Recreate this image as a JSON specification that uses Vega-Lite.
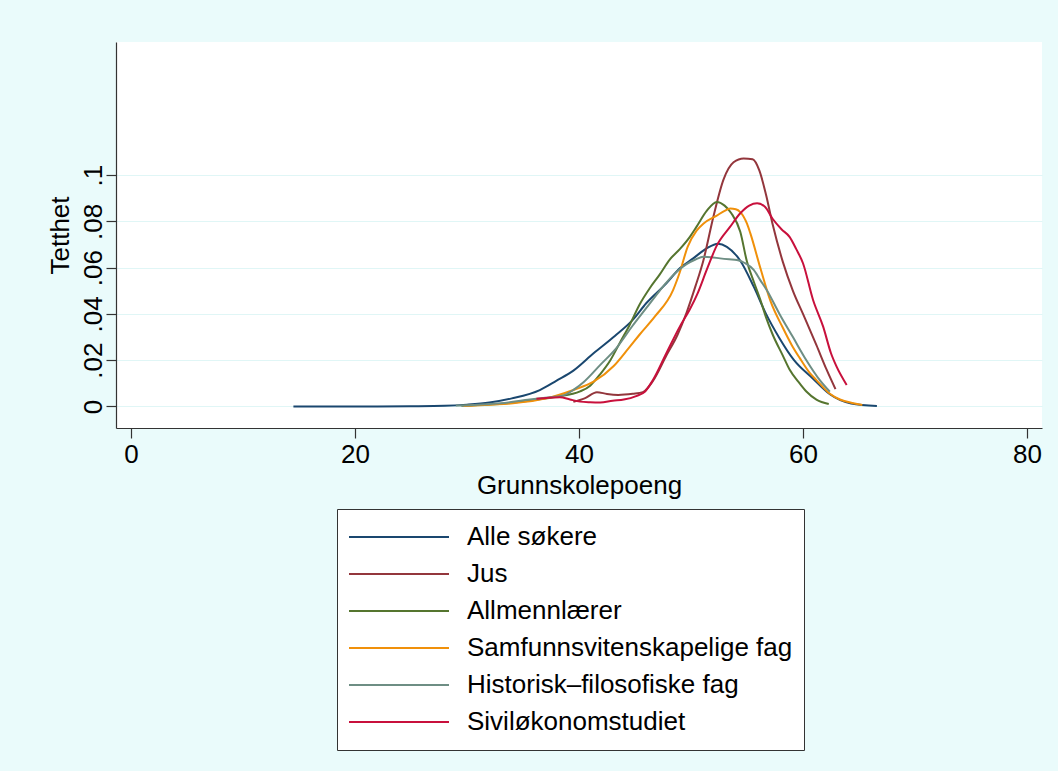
{
 "$schema": "https://vega.github.io/schema/vega-lite/v6.json",
 "width": 926,
 "height": 386,
 "autosize": {"type": "none"},
 "padding": {"left": 116, "top": 42, "right": 16, "bottom": 343},
 "background": "#eafbfb",
 "config": {"font": "Liberation Sans", "view": {"fill": "white", "stroke": null}},
 "data": {"values": [
  {"g":"Alle søkere","x":14.5,"y":0},{"g":"Alle søkere","x":18,"y":0},{"g":"Alle søkere","x":22,"y":0},{"g":"Alle søkere","x":25,"y":0.0001},{"g":"Alle søkere","x":28,"y":0.0003},{"g":"Alle søkere","x":30,"y":0.0008},{"g":"Alle søkere","x":32,"y":0.0017},{"g":"Alle søkere","x":34,"y":0.0035},{"g":"Alle søkere","x":36.5,"y":0.0071},{"g":"Alle søkere","x":38,"y":0.0112},{"g":"Alle søkere","x":39.5,"y":0.0155},{"g":"Alle søkere","x":41.3,"y":0.023},{"g":"Alle søkere","x":43.2,"y":0.0305},{"g":"Alle søkere","x":44.8,"y":0.0374},{"g":"Alle søkere","x":46,"y":0.0446},{"g":"Alle søkere","x":47.8,"y":0.0532},{"g":"Alle søkere","x":49,"y":0.0597},{"g":"Alle søkere","x":50.2,"y":0.064},{"g":"Alle søkere","x":51.4,"y":0.0683},{"g":"Alle søkere","x":52.4,"y":0.0703},{"g":"Alle søkere","x":53.2,"y":0.069},{"g":"Alle søkere","x":54.4,"y":0.063},{"g":"Alle søkere","x":55.6,"y":0.0518},{"g":"Alle søkere","x":56.7,"y":0.04},{"g":"Alle søkere","x":57.9,"y":0.0295},{"g":"Alle søkere","x":59.2,"y":0.02},{"g":"Alle søkere","x":60.9,"y":0.012},{"g":"Alle søkere","x":62.4,"y":0.0053},{"g":"Alle søkere","x":64.3,"y":0.0013},{"g":"Alle søkere","x":66.6,"y":0.0002},
  {"g":"Jus","x":39.5,"y":0.002},{"g":"Jus","x":40.5,"y":0.0035},{"g":"Jus","x":41.6,"y":0.0062},{"g":"Jus","x":42.5,"y":0.0054},{"g":"Jus","x":43.5,"y":0.005},{"g":"Jus","x":44.8,"y":0.0055},{"g":"Jus","x":45.7,"y":0.0062},{"g":"Jus","x":46.6,"y":0.011},{"g":"Jus","x":47.8,"y":0.022},{"g":"Jus","x":48.8,"y":0.031},{"g":"Jus","x":49.6,"y":0.0405},{"g":"Jus","x":50.4,"y":0.052},{"g":"Jus","x":51.1,"y":0.063},{"g":"Jus","x":52,"y":0.082},{"g":"Jus","x":52.9,"y":0.098},{"g":"Jus","x":53.8,"y":0.1055},{"g":"Jus","x":54.7,"y":0.1072},{"g":"Jus","x":55.5,"y":0.1068},{"g":"Jus","x":56.1,"y":0.102},{"g":"Jus","x":56.7,"y":0.0915},{"g":"Jus","x":57.3,"y":0.0785},{"g":"Jus","x":58.2,"y":0.0625},{"g":"Jus","x":59.1,"y":0.05},{"g":"Jus","x":60,"y":0.04},{"g":"Jus","x":61.2,"y":0.0265},{"g":"Jus","x":62.1,"y":0.016},{"g":"Jus","x":62.9,"y":0.0075},
  {"g":"Allmennlærer","x":29.5,"y":0.0003},{"g":"Allmennlærer","x":32,"y":0.0008},{"g":"Allmennlærer","x":34,"y":0.0016},{"g":"Allmennlærer","x":36,"y":0.0028},{"g":"Allmennlærer","x":38,"y":0.0042},{"g":"Allmennlærer","x":40.1,"y":0.0065},{"g":"Allmennlærer","x":41,"y":0.009},{"g":"Allmennlærer","x":41.9,"y":0.014},{"g":"Allmennlærer","x":42.8,"y":0.02},{"g":"Allmennlærer","x":43.7,"y":0.028},{"g":"Allmennlærer","x":44.5,"y":0.035},{"g":"Allmennlærer","x":45.4,"y":0.044},{"g":"Allmennlærer","x":46.3,"y":0.051},{"g":"Allmennlærer","x":47.2,"y":0.057},{"g":"Allmennlærer","x":48.1,"y":0.0635},{"g":"Allmennlærer","x":49,"y":0.068},{"g":"Allmennlærer","x":49.9,"y":0.0733},{"g":"Allmennlærer","x":50.5,"y":0.0777},{"g":"Allmennlærer","x":51.4,"y":0.0845},{"g":"Allmennlærer","x":52.3,"y":0.0884},{"g":"Allmennlærer","x":53,"y":0.0868},{"g":"Allmennlærer","x":53.6,"y":0.0835},{"g":"Allmennlærer","x":54.4,"y":0.0755},{"g":"Allmennlærer","x":55,"y":0.0625},{"g":"Allmennlærer","x":55.6,"y":0.054},{"g":"Allmennlærer","x":56.2,"y":0.046},{"g":"Allmennlærer","x":56.7,"y":0.0385},{"g":"Allmennlærer","x":57.3,"y":0.031},{"g":"Allmennlærer","x":58.2,"y":0.022},{"g":"Allmennlærer","x":58.8,"y":0.016},{"g":"Allmennlærer","x":59.7,"y":0.01},{"g":"Allmennlærer","x":60.3,"y":0.0065},{"g":"Allmennlærer","x":61.2,"y":0.003},{"g":"Allmennlærer","x":62.3,"y":0.0011},
  {"g":"Samfunnsvitenskapelige fag","x":29.7,"y":0.0002},{"g":"Samfunnsvitenskapelige fag","x":32,"y":0.0008},{"g":"Samfunnsvitenskapelige fag","x":34.1,"y":0.0014},{"g":"Samfunnsvitenskapelige fag","x":37.1,"y":0.0035},{"g":"Samfunnsvitenskapelige fag","x":39.5,"y":0.0071},{"g":"Samfunnsvitenskapelige fag","x":41.3,"y":0.0107},{"g":"Samfunnsvitenskapelige fag","x":43.1,"y":0.0175},{"g":"Samfunnsvitenskapelige fag","x":44.4,"y":0.025},{"g":"Samfunnsvitenskapelige fag","x":45.4,"y":0.031},{"g":"Samfunnsvitenskapelige fag","x":46.8,"y":0.039},{"g":"Samfunnsvitenskapelige fag","x":48.4,"y":0.0503},{"g":"Samfunnsvitenskapelige fag","x":49,"y":0.058},{"g":"Samfunnsvitenskapelige fag","x":49.7,"y":0.069},{"g":"Samfunnsvitenskapelige fag","x":50.5,"y":0.076},{"g":"Samfunnsvitenskapelige fag","x":51.1,"y":0.079},{"g":"Samfunnsvitenskapelige fag","x":52.3,"y":0.0825},{"g":"Samfunnsvitenskapelige fag","x":53,"y":0.0845},{"g":"Samfunnsvitenskapelige fag","x":53.5,"y":0.0855},{"g":"Samfunnsvitenskapelige fag","x":54,"y":0.0852},{"g":"Samfunnsvitenskapelige fag","x":54.4,"y":0.084},{"g":"Samfunnsvitenskapelige fag","x":55,"y":0.079},{"g":"Samfunnsvitenskapelige fag","x":55.3,"y":0.0748},{"g":"Samfunnsvitenskapelige fag","x":56.2,"y":0.0597},{"g":"Samfunnsvitenskapelige fag","x":57.1,"y":0.0455},{"g":"Samfunnsvitenskapelige fag","x":58.2,"y":0.034},{"g":"Samfunnsvitenskapelige fag","x":59,"y":0.0265},{"g":"Samfunnsvitenskapelige fag","x":59.7,"y":0.021},{"g":"Samfunnsvitenskapelige fag","x":60.6,"y":0.0145},{"g":"Samfunnsvitenskapelige fag","x":61.2,"y":0.0114},{"g":"Samfunnsvitenskapelige fag","x":62.4,"y":0.0055},{"g":"Samfunnsvitenskapelige fag","x":63.3,"y":0.003},{"g":"Samfunnsvitenskapelige fag","x":64.5,"y":0.0014},{"g":"Samfunnsvitenskapelige fag","x":65.3,"y":0.0006},
  {"g":"Historisk–filosofiske fag","x":29,"y":0.0004},{"g":"Historisk–filosofiske fag","x":31,"y":0.0008},{"g":"Historisk–filosofiske fag","x":33,"y":0.0014},{"g":"Historisk–filosofiske fag","x":35.6,"y":0.003},{"g":"Historisk–filosofiske fag","x":37,"y":0.0038},{"g":"Historisk–filosofiske fag","x":38.6,"y":0.0048},{"g":"Historisk–filosofiske fag","x":39.6,"y":0.0075},{"g":"Historisk–filosofiske fag","x":40.4,"y":0.0105},{"g":"Historisk–filosofiske fag","x":41.9,"y":0.018},{"g":"Historisk–filosofiske fag","x":43.3,"y":0.025},{"g":"Historisk–filosofiske fag","x":44.8,"y":0.035},{"g":"Historisk–filosofiske fag","x":46,"y":0.0425},{"g":"Historisk–filosofiske fag","x":47.2,"y":0.05},{"g":"Historisk–filosofiske fag","x":47.8,"y":0.0535},{"g":"Historisk–filosofiske fag","x":48.8,"y":0.0585},{"g":"Historisk–filosofiske fag","x":49.6,"y":0.0615},{"g":"Historisk–filosofiske fag","x":50.4,"y":0.0635},{"g":"Historisk–filosofiske fag","x":51.1,"y":0.0647},{"g":"Historisk–filosofiske fag","x":51.8,"y":0.0645},{"g":"Historisk–filosofiske fag","x":52.6,"y":0.064},{"g":"Historisk–filosofiske fag","x":53.4,"y":0.0636},{"g":"Historisk–filosofiske fag","x":54.1,"y":0.0633},{"g":"Historisk–filosofiske fag","x":54.8,"y":0.062},{"g":"Historisk–filosofiske fag","x":55.6,"y":0.059},{"g":"Historisk–filosofiske fag","x":56.2,"y":0.0545},{"g":"Historisk–filosofiske fag","x":56.8,"y":0.05},{"g":"Historisk–filosofiske fag","x":57.9,"y":0.04},{"g":"Historisk–filosofiske fag","x":59.1,"y":0.03},{"g":"Historisk–filosofiske fag","x":60.3,"y":0.02},{"g":"Historisk–filosofiske fag","x":61.5,"y":0.0114},{"g":"Historisk–filosofiske fag","x":62.4,"y":0.0064},
  {"g":"Siviløkonomstudiet","x":36.2,"y":0.0033},{"g":"Siviløkonomstudiet","x":37.3,"y":0.0038},{"g":"Siviløkonomstudiet","x":38.3,"y":0.004},{"g":"Siviløkonomstudiet","x":39.2,"y":0.003},{"g":"Siviløkonomstudiet","x":40.1,"y":0.0021},{"g":"Siviløkonomstudiet","x":41,"y":0.0018},{"g":"Siviløkonomstudiet","x":41.9,"y":0.0017},{"g":"Siviløkonomstudiet","x":43,"y":0.0025},{"g":"Siviløkonomstudiet","x":44,"y":0.003},{"g":"Siviløkonomstudiet","x":45.1,"y":0.0045},{"g":"Siviløkonomstudiet","x":45.9,"y":0.0065},{"g":"Siviløkonomstudiet","x":46.6,"y":0.0114},{"g":"Siviløkonomstudiet","x":47.8,"y":0.023},{"g":"Siviløkonomstudiet","x":49,"y":0.0345},{"g":"Siviløkonomstudiet","x":49.9,"y":0.042},{"g":"Siviløkonomstudiet","x":50.6,"y":0.049},{"g":"Siviløkonomstudiet","x":51.4,"y":0.059},{"g":"Siviløkonomstudiet","x":52.3,"y":0.0695},{"g":"Siviløkonomstudiet","x":53.5,"y":0.0777},{"g":"Siviløkonomstudiet","x":54.4,"y":0.0835},{"g":"Siviløkonomstudiet","x":55.2,"y":0.0868},{"g":"Siviløkonomstudiet","x":55.9,"y":0.0878},{"g":"Siviløkonomstudiet","x":56.6,"y":0.0863},{"g":"Siviløkonomstudiet","x":57.3,"y":0.081},{"g":"Siviløkonomstudiet","x":58.1,"y":0.0765},{"g":"Siviløkonomstudiet","x":58.8,"y":0.0733},{"g":"Siviløkonomstudiet","x":59.4,"y":0.068},{"g":"Siviløkonomstudiet","x":60,"y":0.0619},{"g":"Siviløkonomstudiet","x":60.9,"y":0.046},{"g":"Siviløkonomstudiet","x":61.8,"y":0.0345},{"g":"Siviløkonomstudiet","x":62.5,"y":0.023},{"g":"Siviløkonomstudiet","x":63,"y":0.0172},{"g":"Siviløkonomstudiet","x":63.9,"y":0.0093}
 ]},
 "mark": {"type": "line", "strokeWidth": 2, "interpolate": "monotone"},
 "encoding": {
  "x": {"field": "x", "type": "quantitative",
   "scale": {"domain": [-1.34, 81.34], "nice": false, "zero": false},
   "axis": {"title": "Grunnskolepoeng", "values": [0, 20, 40, 60, 80], "grid": false,
    "domainColor": "#333333", "domainWidth": 1.2, "tickColor": "#333333", "tickWidth": 1.2, "tickSize": 10,
    "labelFontSize": 26, "labelColor": "#000000", "labelPadding": 3,
    "titleFontSize": 26, "titleFontWeight": "normal", "titleColor": "#000000", "titlePadding": 5}},
  "y": {"field": "y", "type": "quantitative",
   "scale": {"domain": [-0.0093, 0.1575], "nice": false, "zero": false},
   "axis": {"title": "Tetthet", "values": [0, 0.02, 0.04, 0.06, 0.08, 0.1], "grid": true,
    "gridColor": "#e0f6f6", "gridWidth": 1.2,
    "domainColor": "#333333", "domainWidth": 1.2, "tickColor": "#333333", "tickWidth": 1.2, "tickSize": 10,
    "labelAngle": -90, "labelAlign": "center", "labelBaseline": "alphabetic", "labelPadding": 5,
    "labelExpr": "datum.value == 0 ? '0' : replace(format(datum.value, '.2~f'), '0.', '.')",
    "labelFontSize": 26, "labelColor": "#000000",
    "titleFontSize": 26, "titleFontWeight": "normal", "titleColor": "#000000", "titlePadding": 7}},
  "color": {"field": "g", "type": "nominal",
   "scale": {"domain": ["Alle søkere", "Jus", "Allmennlærer", "Samfunnsvitenskapelige fag", "Historisk–filosofiske fag", "Siviløkonomstudiet"],
             "range": ["#1a476f", "#93363c", "#55752f", "#f0900a", "#6e8e84", "#c8103c"]},
   "legend": {"orient": "none", "legendX": 221, "legendY": 467, "direction": "vertical", "title": null,
    "symbolType": "stroke", "symbolSize": 10000, "symbolStrokeWidth": 2, "clipHeight": 34, "rowPadding": 3,
    "labelFontSize": 26, "labelColor": "#000000", "labelOffset": 17, "labelLimit": 800,
    "padding": 11, "strokeColor": "#333333", "fillColor": "#ffffff", "cornerRadius": 0}}
 }
}
